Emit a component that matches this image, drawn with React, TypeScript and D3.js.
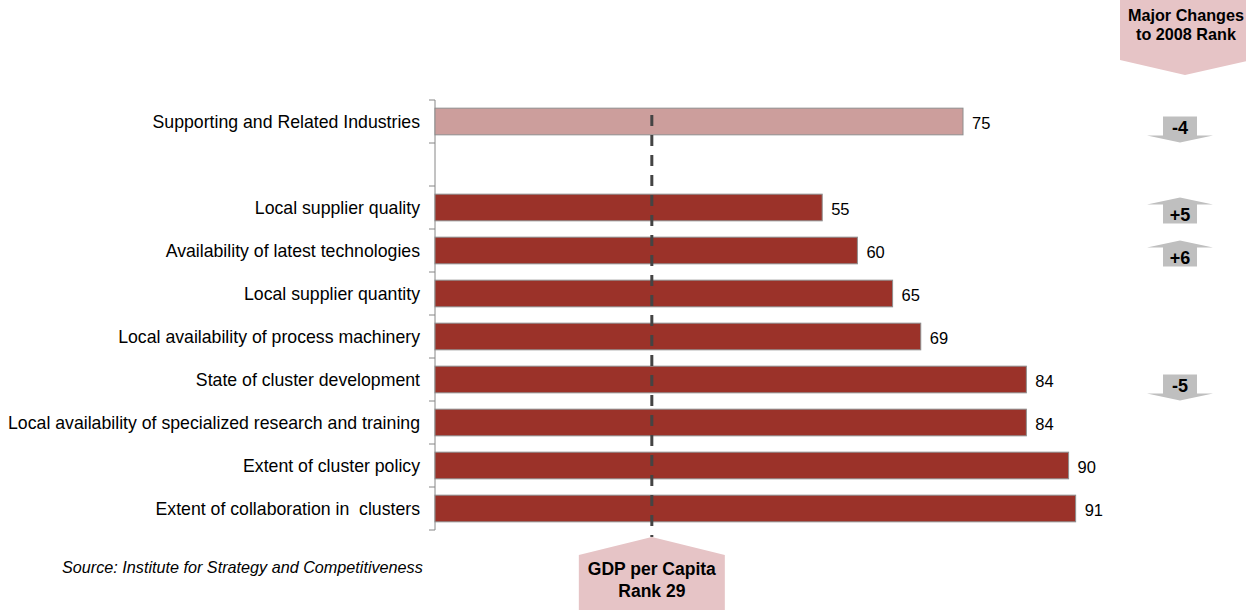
import React from "react";
import * as d3 from "d3";

const categories: string[] = [
  "Supporting and Related Industries",
  "",
  "Local supplier quality",
  "Availability of latest technologies",
  "Local supplier quantity",
  "Local availability of process machinery",
  "State of cluster development",
  "Local availability of specialized research and training",
  "Extent of cluster policy",
  "Extent of collaboration in  clusters",
];
const ranks: (number | null)[] = [75, null, 55, 60, 65, 69, 84, 84, 90, 91];
const changeCategories: string[] = [
  "Supporting and Related Industries",
  "Local supplier quality",
  "Availability of latest technologies",
  "State of cluster development",
];
const changeValues: number[] = [-4, 5, 6, -5];
const gdpRankLabel = "Rank 29";
const gdpLinePosition = 30.8;
const headerLines = ["Major Changes", "to 2008 Rank"];
const gdpLines = ["GDP per Capita", gdpRankLabel];
const sourceText = "Source: Institute for Strategy and Competitiveness";

const W = 1246;
const H = 610;
const FONT = "'Liberation Sans', Arial, Helvetica, sans-serif";

export default function App() {
  const keys = categories.map((c, i) => `${i}:${c}`);
  const x = d3.scaleLinear().domain([0, 100]).range([435, 1139]);
  const y = d3
    .scaleBand<string>()
    .domain(keys)
    .range([100, 530])
    .paddingInner(0.38)
    .paddingOuter(0.19);
  const step = y.step();
  const bw = y.bandwidth();
  const offset = (step - bw) / 2;
  const boundaries = keys.map((k) => (y(k) as number) - offset);
  boundaries.push((y(keys[keys.length - 1]) as number) + bw + offset);

  const center = (cat: string) => {
    const i = categories.indexOf(cat);
    return (y(keys[i]) as number) + bw / 2;
  };

  const arrowX = 1180;
  const rectW = 34;
  const headW = 66;
  const rectH = 19;
  const headH = 7;

  const refX = x(gdpLinePosition);

  return (
    <>
      <style>{"body{margin:0}"}</style>
      <svg width={W} height={H} style={{ display: "block", fontFamily: FONT }}>
        <rect x={0} y={0} width={W} height={H} fill="#ffffff" />
        {/* axis */}
        <line x1={435} x2={435} y1={boundaries[0]} y2={boundaries[boundaries.length - 1]} stroke="#868686" strokeWidth={1} />
        {boundaries.map((b, i) => (
          <line key={i} x1={429} x2={435} y1={b} y2={b} stroke="#868686" strokeWidth={1} />
        ))}
        {/* labels */}
        {keys.map((k, i) => (
          <text
            key={k}
            x={420}
            y={(y(k) as number) + bw / 2}
            textAnchor="end"
            dominantBaseline="central"
            fontSize={17.7}
            fill="#000"
            style={{ whiteSpace: "pre" }}
          >
            {categories[i]}
          </text>
        ))}
        {/* bars */}
        {keys.map((k, i) =>
          ranks[i] == null ? null : (
            <g key={k}>
              <rect
                x={x(0)}
                y={y(k) as number}
                width={x(ranks[i] as number) - x(0)}
                height={bw}
                fill={i === 0 ? "#cc9e9c" : "#9b3229"}
                stroke="#8e8e8e"
                strokeWidth={1}
              />
              <text
                x={x(ranks[i] as number) + 9}
                y={(y(k) as number) + bw / 2 + 1}
                dominantBaseline="central"
                fontSize={16.5}
                fill="#000"
              >
                {ranks[i]}
              </text>
            </g>
          )
        )}
        {/* GDP reference line */}
        <line x1={refX} x2={refX} y1={115} y2={537} stroke="#444444" strokeWidth={3} strokeDasharray="11 9" />
        {/* GDP box */}
        <path
          d={`M${refX},537 L${refX + 73},555 L${refX + 73},615 L${refX - 73},615 L${refX - 73},555 Z`}
          fill="#e6c4c6"
        />
        {gdpLines.map((t, i) => (
          <text key={t} x={refX} y={575 + i * 22} textAnchor="middle" fontSize={17.5} fontWeight="bold" fill="#000">
            {t}
          </text>
        ))}
        {/* header box */}
        <path d={`M1120,0 L1252,0 L1252,60 L${arrowX + 5},75 L1120,60 Z`} fill="#e6c4c6" />
        {headerLines.map((t, i) => (
          <text key={t} x={arrowX + 6} y={21 + i * 19} textAnchor="middle" fontSize={16.2} fontWeight="bold" fill="#000">
            {t}
          </text>
        ))}
        {/* change arrows */}
        {changeCategories.map((cat, i) => {
          const c = center(cat);
          const v = changeValues[i];
          let d: string;
          let textY: number;
          if (v < 0) {
            const rectTop = c - 5;
            const rb = rectTop + rectH;
            d = `M${arrowX - rectW / 2},${rectTop} L${arrowX + rectW / 2},${rectTop} L${arrowX + rectW / 2},${rb} L${arrowX + headW / 2},${rb} L${arrowX},${rb + headH} L${arrowX - headW / 2},${rb} L${arrowX - rectW / 2},${rb} Z`;
            textY = rectTop + 11;
          } else {
            const tip = c - 10;
            const rectTop = tip + headH;
            const rb = rectTop + rectH;
            d = `M${arrowX},${tip} L${arrowX + headW / 2},${rectTop} L${arrowX + rectW / 2},${rectTop} L${arrowX + rectW / 2},${rb} L${arrowX - rectW / 2},${rb} L${arrowX - rectW / 2},${rectTop} L${arrowX - headW / 2},${rectTop} Z`;
            textY = rectTop + 10.5;
          }
          return (
            <g key={cat}>
              <path d={d} fill="#bfbfbf" />
              <text
                x={arrowX}
                y={textY}
                textAnchor="middle"
                dominantBaseline="central"
                fontSize={18}
                fontWeight="bold"
                fill="#000"
              >
                {v > 0 ? `+${v}` : `${v}`}
              </text>
            </g>
          );
        })}
        {/* source */}
        <text x={62} y={573} fontSize={16.2} fontStyle="italic" fill="#000">
          {sourceText}
        </text>
      </svg>
    </>
  );
}
